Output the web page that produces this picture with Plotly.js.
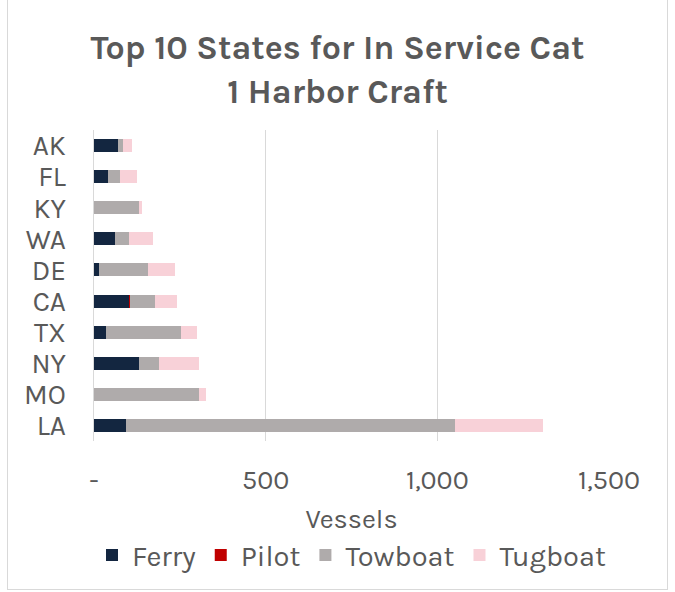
<!DOCTYPE html>
<html><head><meta charset="utf-8">
<script src="https://cdn.plot.ly/plotly-3.0.1.min.js"></script>
<style>
html,body{margin:0;padding:0;background:#fff;}
#wrap{position:absolute;left:0;top:0;width:675px;height:592px;}
#frame{position:absolute;left:7px;top:-2px;width:661px;height:592px;border:1px solid #d9d9d9;box-sizing:border-box;pointer-events:none;}
#chart{width:675px;height:592px;}
</style></head>
<body>
<div id="wrap"><div id="chart"></div><div id="frame"></div></div>
<script>
const states = ["AK","FL","KY","WA","DE","CA","TX","NY","MO","LA"];
const ferry   = [69, 40, 0, 60, 16, 101, 34, 132, 0, 93];
const pilot   = [0, 0, 0, 0, 0, 5, 0, 0, 0, 0];
const towboat = [16, 37, 132, 43, 140, 72, 220, 56, 305, 957];
const tugboat = [25, 47, 8, 70, 79, 64, 46, 117, 20, 259];
const tickVals = [0, 500, 1000, 1500];
const tickText = ["-", "500", "1,000", "1,500"];

const font = "Karla, 'Noto Sans', 'Open Sans', sans-serif";
const grey = "#595959";
function tr(name, vals, color){
  return {type:"bar", orientation:"h", name:name, x:vals, y:states,
    marker:{color:color, line:{width:0}}, hoverinfo:"x+y+name"};
}
const data = [
  tr("Ferry", ferry, "#132640"),
  tr("Pilot", pilot, "#C00000"),
  tr("Towboat", towboat, "#AFABAB"),
  tr("Tugboat", tugboat, "#F8D1D8")
];
const layout = {
  width:675, height:592,
  margin:{l:94, r:66, t:130, b:151},
  paper_bgcolor:"#fff", plot_bgcolor:"#fff",
  barmode:"stack", bargap:0.58,
  font:{family:font, color:grey, size:26},
  title:{text:"<b>Top 10 States for In Service Cat<br>1 Harbor Craft</b>", x:0.5, xanchor:"center", y:0.9, yanchor:"top",
    font:{family:font, size:34, color:grey}},
  xaxis:{range:[0,1500], tickvals:tickVals, ticktext:tickText, showgrid:true, gridcolor:"#d9d9d9", gridwidth:1.5,
    zeroline:false, showline:false, ticks:"", ticklabelstandoff:20, tickfont:{size:27, color:grey},
    title:{text:"Vessels", font:{size:27, color:grey}, standoff:14}},
  yaxis:{type:"category", tickmode:"array", tickvals:states, ticktext:states,
    categoryorder:"array", categoryarray:states, autorange:"reversed", showgrid:false,
    showline:true, linecolor:"#d9d9d9", linewidth:1.5, zeroline:false, ticks:"", ticklabelstandoff:21,
    tickfont:{size:28, color:grey}},
  legend:{orientation:"h", x:0.5, xanchor:"center", y:-0.285, yanchor:"top", traceorder:"normal",
    font:{size:29, color:grey}, itemwidth:30},
  showlegend:true
};
Plotly.newPlot("chart", data, layout, {displayModeBar:false, staticPlot:true});
</script>
</body></html>
